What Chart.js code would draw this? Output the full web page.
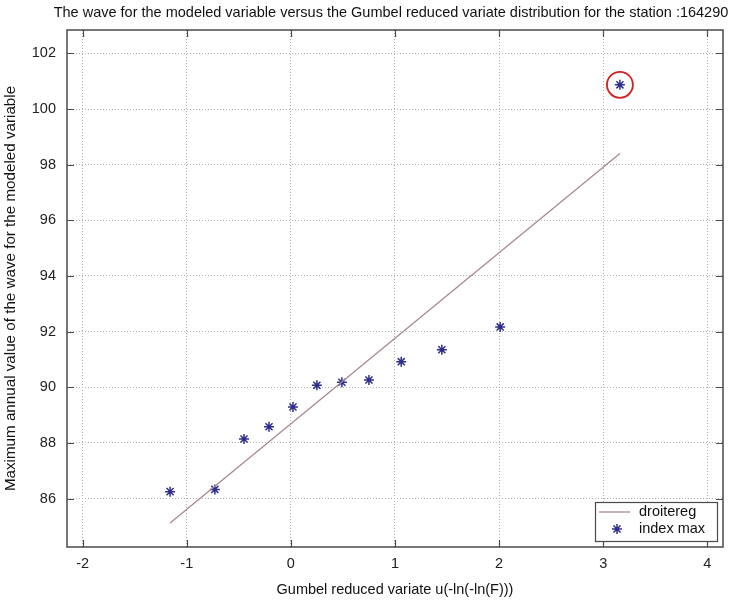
<!DOCTYPE html>
<html>
<head>
<meta charset="utf-8">
<script src="https://cdn.jsdelivr.net/npm/chart.js@4.4.1/dist/chart.umd.min.js"></script>
<style>
  html, body { margin: 0; padding: 0; background: #ffffff; }
  #wrap { width: 740px; height: 601px; }
</style>
</head>
<body>
<div id="wrap"><canvas id="chart" width="740" height="601"></canvas></div>
<script>
// Texts
const chartTitle = 'The wave for the modeled variable versus the Gumbel reduced variate distribution for the station :164290';
const xAxisTitle = 'Gumbel reduced variate u(-ln(-ln(F)))';
const yAxisTitle = 'Maximum annual value of the wave for the modeled variable';
const seriesNames = ['droitereg', 'index max'];

// Annual maxima against their Gumbel reduced variate
const reducedVariate = [-1.16, -0.73, -0.45, -0.21, 0.02, 0.25, 0.49, 0.75, 1.06, 1.45, 2.01, 3.16];
const annualMax = [86.25, 86.33, 88.14, 88.58, 89.29, 90.07, 90.18, 90.26, 90.92, 91.35, 92.17, 100.87];

// Fitted regression line (end points)
const regX = [-1.16, 3.16];
const regY = [85.12, 98.40];

// Axis ticks and ranges
const xTicks = [-2, -1, 0, 1, 2, 3, 4];
const yTicks = [86, 88, 90, 92, 94, 96, 98, 100, 102];
const xRange = [-2.15, 4.15];
const yRange = [84.26, 102.84];

const FONT = "'Liberation Sans', Arial, sans-serif";
const TEXT_SIZE = 14.5;
const FRAME_COLOR = '#4a4a4a';

// the largest observed maximum gets circled
const peakIndex = annualMax.indexOf(Math.max(...annualMax));

const boxPlugin = {
  id: 'boxAndLegend',
  afterDraw(chart) {
    const {ctx, chartArea: a, scales} = chart;
    ctx.save();

    // title centred over the plotting area
    ctx.fillStyle = '#111';
    ctx.font = TEXT_SIZE + 'px ' + FONT;
    ctx.textAlign = 'center';
    ctx.textBaseline = 'middle';
    ctx.fillText(chartTitle, (a.left + a.right) / 2 - 4, 13);

    // axes box
    ctx.strokeStyle = FRAME_COLOR;
    ctx.lineWidth = 1.5;
    ctx.strokeRect(a.left, a.top, a.right - a.left, a.bottom - a.top);

    // inward tick marks on all four sides
    const tl = 7;
    ctx.lineWidth = 1.2;
    ctx.beginPath();
    xTicks.forEach(v => {
      const px = Math.round(scales.x.getPixelForValue(v)) + 0.5;
      ctx.moveTo(px, a.bottom); ctx.lineTo(px, a.bottom - tl);
      ctx.moveTo(px, a.top); ctx.lineTo(px, a.top + tl);
    });
    yTicks.forEach(v => {
      const py = Math.round(scales.y.getPixelForValue(v)) + 0.5;
      ctx.moveTo(a.left, py); ctx.lineTo(a.left + tl, py);
      ctx.moveTo(a.right, py); ctx.lineTo(a.right - tl, py);
    });
    ctx.stroke();

    // legend box in the lower right corner
    const bw = 122, bh = 39;
    const bx = a.right - 6 - bw, by = a.bottom - 6 - bh;
    ctx.fillStyle = '#ffffff';
    ctx.fillRect(bx, by, bw, bh);
    ctx.strokeStyle = FRAME_COLOR;
    ctx.lineWidth = 1.2;
    ctx.strokeRect(bx + 0.5, by + 0.5, bw, bh);

    const lineDs = chart.data.datasets[0];
    const ptDs = chart.data.datasets[1];
    const r1 = by + 10, r2 = by + 27;
    ctx.strokeStyle = lineDs.borderColor;
    ctx.lineWidth = lineDs.borderWidth;
    ctx.beginPath();
    ctx.moveTo(bx + 4, r1); ctx.lineTo(bx + 35, r1);
    ctx.stroke();
    ctx.strokeStyle = ptDs.borderColor;
    ctx.fillStyle = ptDs.backgroundColor;
    ctx.lineWidth = ptDs.borderWidth;
    Chart.helpers.drawPoint(ctx, {
      pointStyle: ptDs.pointStyle, radius: ptDs.pointRadius, borderWidth: ptDs.borderWidth, rotation: 0
    }, bx + 22, r2);

    ctx.fillStyle = '#111';
    ctx.textAlign = 'left';
    ctx.textBaseline = 'middle';
    ctx.fillText(lineDs.label, bx + 44, r1);
    ctx.fillText(ptDs.label, bx + 44, r2);

    ctx.restore();
  }
};

new Chart(document.getElementById('chart'), {
  type: 'scatter',
  data: {
    datasets: [
      {
        label: seriesNames[0],
        data: regX.map((x, i) => ({x: x, y: regY[i]})),
        showLine: true,
        borderColor: '#a8878f',
        backgroundColor: '#a8878f',
        borderWidth: 1.3,
        pointRadius: 0
      },
      {
        label: seriesNames[1],
        data: reducedVariate.map((x, i) => ({x: x, y: annualMax[i]})),
        showLine: false,
        pointStyle: 'star',
        pointRadius: 5,
        borderWidth: 1.5,
        borderColor: '#2e2e8c',
        backgroundColor: '#2e2e8c'
      },
      {
        label: '',
        data: [{x: reducedVariate[peakIndex], y: annualMax[peakIndex]}],
        showLine: false,
        pointStyle: 'circle',
        pointRadius: 13,
        borderWidth: 1.8,
        borderColor: '#d42020',
        backgroundColor: 'rgba(0,0,0,0)'
      }
    ]
  },
  options: {
    responsive: false,
    animation: false,
    events: [],
    layout: { padding: { top: 30, right: 17, left: 0, bottom: 0 } },
    plugins: {
      legend: { display: false },
      title: { display: false },
      tooltip: { enabled: false }
    },
    scales: {
      x: {
        type: 'linear',
        position: 'bottom',
        min: xRange[0],
        max: xRange[1],
        afterFit: s => { s.height = 54; },
        afterBuildTicks: s => { s.ticks = xTicks.map(v => ({value: v})); },
        grid: { color: '#b0b0b0', lineWidth: 1, drawTicks: false },
        border: { display: false, dash: [1, 2] },
        ticks: { padding: 8, color: '#222', font: { family: FONT, size: TEXT_SIZE } },
        title: {
          display: true, text: xAxisTitle, color: '#111',
          font: { family: FONT, size: TEXT_SIZE }, padding: { top: 0, bottom: 2.3 }
        }
      },
      y: {
        type: 'linear',
        position: 'left',
        min: yRange[0],
        max: yRange[1],
        afterFit: s => { s.width = 67; },
        afterBuildTicks: s => { s.ticks = yTicks.map(v => ({value: v})); },
        grid: { color: '#b0b0b0', lineWidth: 1, drawTicks: false },
        border: { display: false, dash: [1, 2] },
        ticks: { padding: 11, color: '#222', font: { family: FONT, size: TEXT_SIZE } },
        title: {
          display: true, text: yAxisTitle, color: '#111',
          font: { family: FONT, size: 15.2 }, padding: { top: 2, bottom: 0 }
        }
      }
    }
  },
  plugins: [boxPlugin]
});
</script>
</body>
</html>
